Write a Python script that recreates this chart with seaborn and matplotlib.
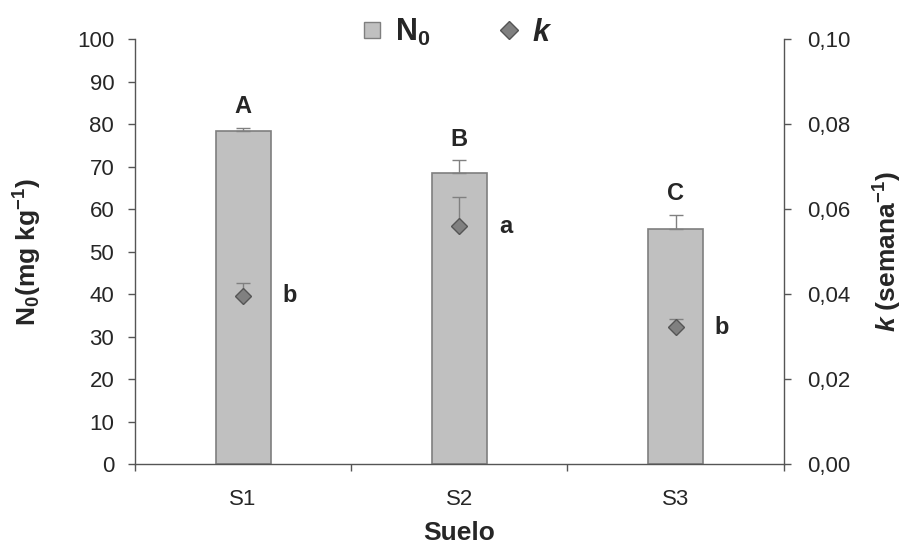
import numpy as np
import pandas as pd
import matplotlib
matplotlib.use("Agg")
import matplotlib.pyplot as plt
import seaborn as sns
from matplotlib.lines import Line2D
from matplotlib.ticker import FuncFormatter, FixedLocator

suelos = ["S1", "S2", "S3"]
n0_vals = [78.3, 68.5, 55.4]
n0_err = [0.9, 3.0, 3.2]
k_vals = [0.0397, 0.0560, 0.0322]
k_err = [0.0030, 0.0068, 0.0020]
n0_letters = ["A", "B", "C"]
k_letters = ["b", "a", "b"]

sns.set_style("white")
plt.rcParams["font.family"] = ["Liberation Sans", "DejaVu Sans"]
plt.rcParams["mathtext.fontset"] = "custom"
plt.rcParams["mathtext.rm"] = "Liberation Sans:bold"
plt.rcParams["mathtext.bf"] = "Liberation Sans:bold"
plt.rcParams["mathtext.it"] = "Liberation Sans:italic:bold"

df = pd.DataFrame({"Suelo": suelos, "N0": n0_vals})

fig = plt.figure(figsize=(9.06, 5.45), dpi=100)
ax = fig.add_axes([0.149, 0.148, 0.716, 0.78])
bar_c = "#C0C0C0"
edge_c = "#7F7F7F"
sns.barplot(data=df, x="Suelo", y="N0", ax=ax, color=bar_c, edgecolor=edge_c,
            linewidth=1.2, width=0.255, saturation=1)
xpos = np.arange(len(suelos))
ax.errorbar(xpos, n0_vals, yerr=[np.zeros(3), n0_err], fmt="none",
            ecolor="#808080", elinewidth=1, capsize=5, capthick=1)
ax.set_xlim(-0.5, 2.5)
ax.set_ylim(0, 100)
ax.set_yticks(np.arange(0, 101, 10))
ax.set_xticks(xpos)
ax.set_xticklabels(suelos, fontsize=16)
ax.xaxis.set_minor_locator(FixedLocator([-0.5, 0.5, 1.5, 2.5]))
ax.tick_params(axis="x", which="major", length=0, pad=18)
ax.tick_params(axis="x", which="minor", length=5, color="#555555", width=1, bottom=True)
ax.tick_params(axis="y", length=5, color="#555555", width=1, left=True, labelsize=16, pad=10)
for s in ["top", "right"]:
    ax.spines[s].set_visible(False)
for s in ["left", "bottom"]:
    ax.spines[s].set_color("#555555")
    ax.spines[s].set_linewidth(1)
ax.set_xlabel("Suelo", fontsize=19, fontweight="bold", labelpad=8)
ax.set_ylabel(r"$\mathrm{N_0}$(mg kg$^{-1}$)", fontsize=19, fontweight="bold", labelpad=24)

for x, v, e, t in zip(xpos, n0_vals, n0_err, n0_letters):
    ax.text(x, v + e + 2.3, t, ha="center", va="bottom", fontsize=17, fontweight="bold")

ax2 = ax.twinx()
kdf = pd.DataFrame({"Suelo": suelos, "k": k_vals})
sns.pointplot(data=kdf, x="Suelo", y="k", ax=ax2, linestyle="none", markers="D",
              color="#808080", markersize=8.5, markeredgecolor="#555555",
              markeredgewidth=1, errorbar=None)
ax2.errorbar(xpos, k_vals, yerr=[np.zeros(3), k_err], fmt="none",
             ecolor="#808080", elinewidth=1, capsize=5, capthick=1, zorder=1)
ax2.set_xlim(-0.5, 2.5)
ax2.set_ylim(0, 0.1)
ax2.set_yticks(np.arange(0, 0.101, 0.02))
ax2.yaxis.set_major_formatter(FuncFormatter(lambda v, p: f"{v:.2f}".replace(".", ",")))
ax2.tick_params(axis="y", length=5, color="#555555", width=1, right=True, labelsize=16, pad=12)
for s in ["top", "left", "bottom"]:
    ax2.spines[s].set_visible(False)
ax2.spines["right"].set_color("#555555")
ax2.spines["right"].set_linewidth(1)
ax2.set_xlabel("")
ax2.set_ylabel(r"$k$ (semana$^{-1}$)", fontsize=19, fontweight="bold", labelpad=15)

for x, v, t in zip(xpos, k_vals, k_letters):
    ax2.text(x + 0.215, v, t, ha="center", va="center", fontsize=17, fontweight="bold")

handles = [
    Line2D([0], [0], marker="s", linestyle="none", markersize=12,
           markerfacecolor=bar_c, markeredgecolor=edge_c),
    Line2D([0], [0], marker="D", linestyle="none", markersize=9,
           markerfacecolor="#808080", markeredgecolor="#555555"),
]
leg = fig.legend(handles, [r"$\mathrm{N_0}$", r"$k$"], loc="upper center",
                 bbox_to_anchor=(0.5, 1.02), ncol=2, frameon=False,
                 fontsize=22, handletextpad=0.15, columnspacing=2.0,
                 handlelength=1.2)

fig.savefig("out.png", dpi=100)
